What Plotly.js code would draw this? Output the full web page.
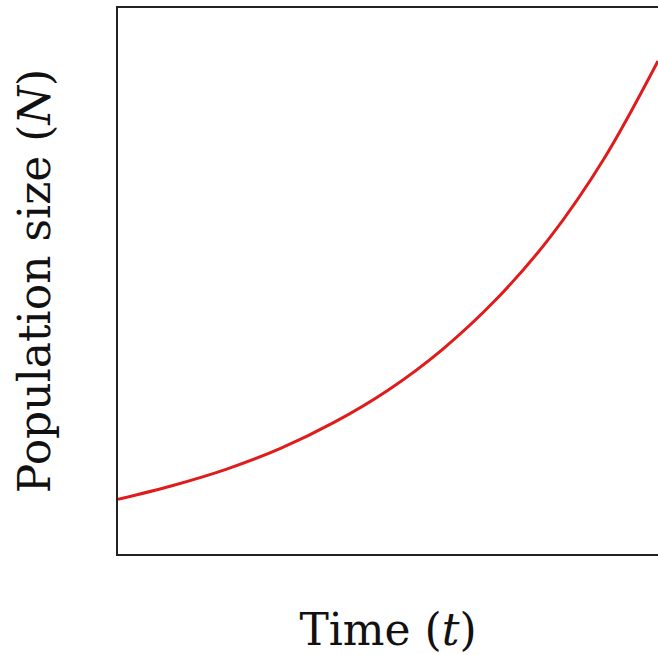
<!DOCTYPE html>
<html>
<head>
<meta charset="utf-8">
<script src="https://cdn.plot.ly/plotly-3.0.1.min.js"></script>
<style>html,body{margin:0;padding:0;background:#fff;overflow:hidden;}</style>
</head>
<body>
<div id="chart" style="width:658px;height:655px;"></div>
<script>
// Values (arbitrary units, no ticks shown)
var timeValues = [0, 1, 2, 3, 4, 5, 6, 7, 8, 9, 10];
var populationValues = [1.00, 1.25, 1.55, 1.93, 2.41, 3.00, 3.74, 4.66, 5.80, 7.24, 9.03];
var xTitle = 'Time (<i>t</i>)';
var yTitle = 'Population size (<i>N</i>)';

var serif = 'DejaVu Serif';

var trace = {
  x: timeValues,
  y: populationValues,
  mode: 'lines',
  line: {color: '#e01b1b', width: 3, shape: 'spline'},
  hoverinfo: 'skip'
};

var layout = {
  width: 658,
  height: 655,
  margin: {l: 118, r: 0, t: 8, b: 101},
  paper_bgcolor: '#ffffff',
  plot_bgcolor: '#ffffff',
  showlegend: false,
  font: {family: serif, color: '#111'},
  xaxis: {
    range: [0, 10],
    showgrid: false, zeroline: false,
    showticklabels: false, ticks: '',
    showline: true, mirror: true, linecolor: '#222', linewidth: 1.6,
    title: {text: xTitle, font: {size: 44, family: serif, color: '#111'}, standoff: 60}
  },
  yaxis: {
    range: [0, 10],
    showgrid: false, zeroline: false,
    showticklabels: false, ticks: '',
    showline: true, mirror: false, linecolor: '#222', linewidth: 1.6,
    title: {text: yTitle, font: {size: 44, family: serif, color: '#111'}, standoff: 52}
  }
};

Plotly.newPlot('chart', [trace], layout, {displayModeBar: false, staticPlot: true});
</script>
</body>
</html>
